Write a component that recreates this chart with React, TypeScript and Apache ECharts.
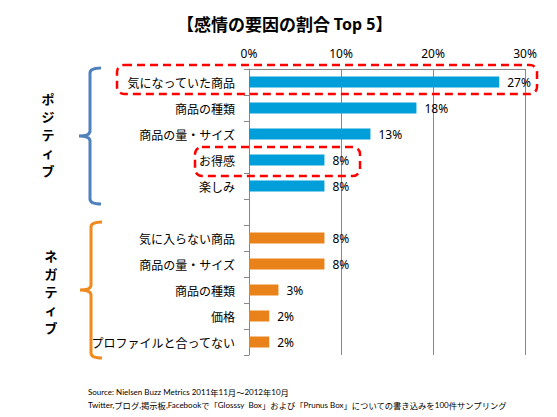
import React, { useEffect, useRef } from "react";
import * as echarts from "echarts";

const categories = [
  "気になっていた商品",
  "商品の種類",
  "商品の量・サイズ",
  "お得感",
  "楽しみ",
  "",
  "気に入らない商品",
  "商品の量・サイズ",
  "商品の種類",
  "価格",
  "プロファイルと合ってない",
];
const positiveValues = [27.2, 18.2, 13.2, 8.2, 8.2];
const negativeValues = [8.2, 8.2, 3.2, 2.2, 2.2];
const xTicks = [0, 10, 20, 30];
const titleText = "【感情の要因の割合 ";
const titleLatin = "Top 5";
const positiveLabel = "ポジティブ";
const negativeLabel = "ネガティブ";
const sourceLine1 = "Source: Nielsen Buzz Metrics 2011年11月～2012年10月";
const sourceLine2 =
  "Twitter,ブログ,掲示板,Facebookで「Glosssy  Box」および「Prunus Box」についての書き込みを100件サンプリング";

const BLUE = "#009FDA";
const ORANGE = "#E9821A";

function richRuns(s: string): string {
  let out = "";
  let cur = "";
  let curAscii: boolean | null = null;
  for (const ch of s) {
    const a = ch.charCodeAt(0) < 128;
    if (curAscii === null || a === curAscii) {
      cur += ch;
      curAscii = a;
    } else {
      out += `{${curAscii ? "a" : "j"}|${cur}}`;
      cur = ch;
      curAscii = a;
    }
  }
  if (cur) out += `{${curAscii ? "a" : "j"}|${cur}}`;
  return out;
}

let registered = false;
function registerBrace() {
  if (registered) return;
  registered = true;
  const d =
    "M 12 0 Q 1 0 1 5 L 1 63 Q 1 68 -10 68 Q 1 68 1 73 L 1 131 Q 1 136 12 136";
  echarts.graphic.registerShape("brace", echarts.graphic.extendPath(d, {}));
}

function verticalText(label: string, cx: number, cy: number, step: number) {
  const chars = Array.from(label);
  const start = cy - ((chars.length - 1) * step) / 2;
  return chars.map((ch, i) => ({
    type: "text",
    x: cx,
    y: start + i * step,
    style: {
      text: ch,
      fontFamily: "Noto Sans CJK JP",
      fontSize: 13,
      fontWeight: "bold",
      fill: "#000",
      align: "center",
      verticalAlign: "middle",
    },
  }));
}

export default function App() {
  const ref = useRef<HTMLDivElement>(null);
  useEffect(() => {
    if (!ref.current) return;
    registerBrace();
    const chart = echarts.init(ref.current, null, { renderer: "svg" });
    const data: any[] = [];
    positiveValues.forEach((v) => data.push({ value: v, itemStyle: { color: BLUE } }));
    data.push({ value: "-" });
    negativeValues.forEach((v) => data.push({ value: v, itemStyle: { color: ORANGE } }));

    const footRich = {
      a: { fontFamily: "Lato", fontSize: 8, color: "#1F3A6E" },
      j: { fontFamily: "Noto Sans CJK JP", fontSize: 8.3, color: "#000" },
    };

    chart.setOption({
      animation: false,
      backgroundColor: "#fff",
      grid: { left: 249, right: 32, top: 69, bottom: 62, containLabel: false },
      xAxis: {
        type: "value",
        position: "top",
        min: 0,
        max: 30,
        interval: 10,
        axisLine: { show: true, lineStyle: { color: "#888", width: 1 } },
        axisTick: { show: false },
        splitLine: { show: true, lineStyle: { color: "#888", width: 1 } },
        axisLabel: {
          margin: 10,
          fontSize: 12,
          color: "#000",
          fontFamily: "Noto Sans",
          formatter: (v: number) => (xTicks.includes(v) ? v + "%" : ""),
        },
      },
      yAxis: {
        type: "category",
        inverse: true,
        data: categories,
        axisLine: { show: true, lineStyle: { color: "#888", width: 1 } },
        axisTick: { show: true, length: 5, lineStyle: { color: "#888" } },
        axisLabel: {
          margin: 14,
          fontSize: 12,
          color: "#000",
          fontFamily: "Noto Sans CJK JP",
          interval: 0,
        },
      },
      series: [
        {
          type: "bar",
          data,
          barWidth: 11,
          label: {
            show: true,
            position: "right",
            distance: 8,
            fontSize: 12,
            color: "#000",
            fontFamily: "Noto Sans",
            formatter: (p: any) => Math.round(p.value) + "%",
          },
        },
      ],
      graphic: [
        {
          type: "text",
          left: 177,
          top: 15,
          style: {
            text: `{j|${titleText}}{a|${titleLatin}}{j|】}`,
            rich: {
              j: { fontFamily: "Noto Sans CJK JP", fontSize: 17, fontWeight: "bold", color: "#000" },
              a: { fontFamily: "Noto Sans", fontSize: 16, fontWeight: "bold", color: "#000" },
            },
          },
        },
        {
          type: "brace",
          x: 89,
          y: 68,
          style: { stroke: "#4F81BD", lineWidth: 3, fill: "none" },
        },
        {
          type: "brace",
          x: 90,
          y: 222,
          style: { stroke: "#F0891E", lineWidth: 3, fill: "none" },
        },
        ...verticalText(positiveLabel, 48, 134, 18),
        ...verticalText(negativeLabel, 51, 291, 18),
        {
          type: "rect",
          z: 100,
          shape: { x: 117, y: 65, width: 420, height: 29, r: 7 },
          style: { fill: "none", stroke: "#FF0000", lineWidth: 2.5, lineDash: [8, 5] },
        },
        {
          type: "rect",
          z: 100,
          shape: { x: 195, y: 147, width: 165, height: 29, r: 7 },
          style: { fill: "none", stroke: "#FF0000", lineWidth: 2.5, lineDash: [8, 5] },
        },
        {
          type: "text",
          x: 88,
          y: 392,
          style: { text: richRuns(sourceLine1), rich: footRich, verticalAlign: "middle" },
        },
        {
          type: "text",
          x: 88,
          y: 405,
          style: { text: richRuns(sourceLine2), rich: footRich, verticalAlign: "middle" },
        },
      ],
    });
    return () => chart.dispose();
  }, []);
  return (
    <div
      ref={ref}
      style={{ position: "fixed", left: 0, top: 0, width: 557, height: 417 }}
    />
  );
}
